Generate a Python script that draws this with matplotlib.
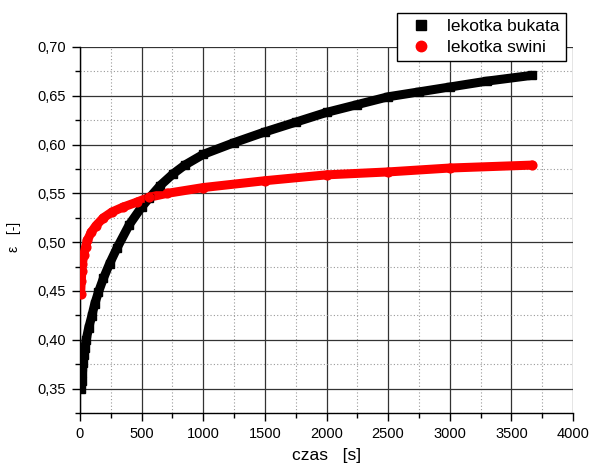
import matplotlib
matplotlib.use('Agg')
import matplotlib.pyplot as plt
from matplotlib.lines import Line2D
from matplotlib.ticker import MultipleLocator, FuncFormatter

plt.rcParams['font.family'] = ['Liberation Sans', 'DejaVu Sans']

# lekotka bukata (black squares)
t_bukata = [10, 15, 20, 25, 30, 40, 50, 70, 95, 120, 150, 190, 240, 300, 400, 500, 560,
            650, 755, 850, 1000, 1250, 1500, 1750, 2000, 2250, 2500, 2750, 3000, 3300, 3670]
e_bukata = [0.350, 0.358, 0.366, 0.376, 0.384, 0.392, 0.400, 0.412, 0.424, 0.437, 0.449,
            0.463, 0.478, 0.494, 0.518, 0.536, 0.545, 0.558, 0.570, 0.579, 0.590, 0.602,
            0.613, 0.623, 0.633, 0.641, 0.649, 0.654, 0.659, 0.665, 0.671]

# lekotka swini (red circles)
t_swini = [5, 10, 15, 20, 30, 45, 60, 90, 130, 190, 260, 350, 460, 560, 705, 1000,
           1500, 2000, 2500, 3000, 3670]
e_swini = [0.447, 0.460, 0.470, 0.478, 0.487, 0.495, 0.502, 0.510, 0.517, 0.525, 0.531,
           0.536, 0.541, 0.546, 0.550, 0.556, 0.563, 0.569, 0.572, 0.576, 0.579]

labels = ['lekotka bukata', 'lekotka swini']

fig = plt.figure(figsize=(5.9, 4.7), dpi=100)
ax = fig.add_axes([80/590, 1-413/470, 493/590, 366/470])

# thick band + markers, as in the dense-point original
ax.plot(t_bukata, e_bukata, color='black', lw=6.5, solid_capstyle='butt',
        solid_joinstyle='round', zorder=3)
ax.plot(t_bukata, e_bukata, 's', color='black', ms=5.2, zorder=4)
ax.plot(t_swini, e_swini, color='red', lw=6.5, solid_capstyle='round',
        solid_joinstyle='round', zorder=3)
ax.plot(t_swini, e_swini, 'o', color='red', ms=6.3, mec='red', zorder=4)

ax.set_xlim(0, 4000)
ax.set_ylim(0.325, 0.70)
ax.xaxis.set_major_locator(MultipleLocator(500))
ax.xaxis.set_minor_locator(MultipleLocator(250))
ax.yaxis.set_major_locator(MultipleLocator(0.05))
ax.yaxis.set_minor_locator(MultipleLocator(0.025))
ax.yaxis.set_major_formatter(FuncFormatter(lambda v, p: ('%.2f' % v).replace('.', ',')))

ax.grid(which='major', color='#333333', lw=0.9, ls='-')
ax.grid(which='minor', color='#999999', lw=0.8, ls=(0, (1, 2)))
ax.set_axisbelow(True)
# Origin style: no grid line on the open edges
xg = ax.xaxis.get_gridlines()
xg[-1].set_visible(False)
yg = ax.yaxis.get_gridlines()
yg[-1].set_visible(False)

for s in ['top', 'right']:
    ax.spines[s].set_visible(False)
for s in ['left', 'bottom']:
    ax.spines[s].set_linewidth(1.0)

ax.tick_params(which='major', direction='out', length=6, width=1, labelsize=10.5, pad=4)
ax.tick_params(which='minor', direction='out', length=3.5, width=1)

ax.set_xlabel('czas   [s]', fontsize=12.5)
ax.xaxis.set_label_coords(0.5, -0.095)
ax.set_ylabel('ε   [-]', fontsize=10)
ax.yaxis.set_label_coords(-0.12, 0.48)

handles = [Line2D([], [], ls='none', marker='s', color='black', ms=7),
           Line2D([], [], ls='none', marker='o', color='red', ms=7.5)]
leg = fig.legend(handles, labels, loc='upper right', bbox_to_anchor=(566/590, 1-13/470),
                 bbox_transform=fig.transFigure, borderaxespad=0, fontsize=12.5,
                 numpoints=1, handlelength=2.0, handletextpad=0.53, labelspacing=0.32,
                 borderpad=0.35, fancybox=False, framealpha=1, edgecolor='black')
leg.get_frame().set_linewidth(1.0)

fig.savefig('out.png', dpi=100)
